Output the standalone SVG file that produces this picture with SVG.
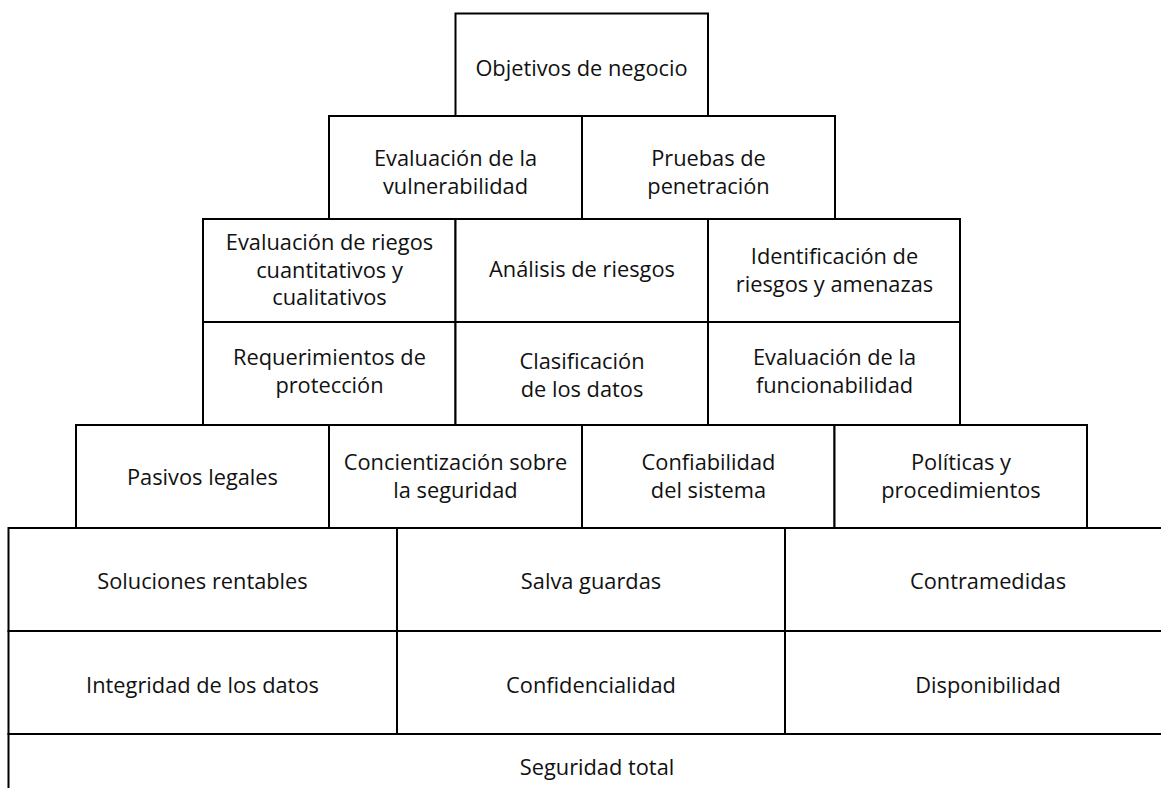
<svg xmlns="http://www.w3.org/2000/svg" width="1161" height="788" viewBox="0 0 1161 788">
<style>
.b{fill:#fff;stroke:#000;stroke-width:2}
.t{font-family:"Open Sans","Noto Sans",sans-serif;font-size:21.8px;fill:#111;text-anchor:middle}
</style>
<rect width="1161" height="788" fill="#fff"/>
<g id="connectors"></g>
<g id="n-objetivos"><rect class="b" x="455.5" y="13.5" width="252.5" height="102.5"/><text class="t" x="581.5" y="76">Objetivos de negocio</text></g>
<g id="n-vulnerabilidad"><rect class="b" x="329" y="116" width="253" height="103"/><text class="t" x="455.5" y="166">Evaluación de la</text><text class="t" x="455.5" y="194">vulnerabilidad</text></g>
<g id="n-pruebas"><rect class="b" x="582" y="116" width="253" height="103"/><text class="t" x="708.5" y="166">Pruebas de</text><text class="t" x="708.5" y="194">penetración</text></g>
<g id="n-evalriesgos"><rect class="b" x="203" y="219" width="252.5" height="103"/><text class="t" x="329.5" y="250">Evaluación de riegos</text><text class="t" x="329.5" y="277.5">cuantitativos y</text><text class="t" x="329.5" y="305">cualitativos</text></g>
<g id="n-analisis"><rect class="b" x="455.5" y="219" width="252.5" height="103"/><text class="t" x="582" y="277">Análisis de riesgos</text></g>
<g id="n-identificacion"><rect class="b" x="708" y="219" width="252" height="103"/><text class="t" x="834.5" y="264">Identificación de</text><text class="t" x="834.5" y="292">riesgos y amenazas</text></g>
<g id="n-requerimientos"><rect class="b" x="203" y="322" width="252.5" height="103"/><text class="t" x="329.5" y="365">Requerimientos de</text><text class="t" x="329.5" y="393">protección</text></g>
<g id="n-clasificacion"><rect class="b" x="455.5" y="322" width="252.5" height="103"/><text class="t" x="582" y="369">Clasificación</text><text class="t" x="582" y="397">de los datos</text></g>
<g id="n-funcionabilidad"><rect class="b" x="708" y="322" width="252" height="103"/><text class="t" x="834.5" y="365">Evaluación de la</text><text class="t" x="834.5" y="393">funcionabilidad</text></g>
<g id="n-pasivos"><rect class="b" x="76" y="425" width="253" height="103"/><text class="t" x="202.5" y="485">Pasivos legales</text></g>
<g id="n-concientizacion"><rect class="b" x="329" y="425" width="253" height="103"/><text class="t" x="455.5" y="470">Concientización sobre</text><text class="t" x="455.5" y="498">la seguridad</text></g>
<g id="n-confiabilidad"><rect class="b" x="582" y="425" width="252.5" height="103"/><text class="t" x="708.5" y="470">Confiabilidad</text><text class="t" x="708.5" y="498">del sistema</text></g>
<g id="n-politicas"><rect class="b" x="834.5" y="425" width="252.5" height="103"/><text class="t" x="961" y="470">Políticas y</text><text class="t" x="961" y="498">procedimientos</text></g>
<g id="n-soluciones"><rect class="b" x="8.5" y="528" width="388.5" height="103"/><text class="t" x="202.5" y="589">Soluciones rentables</text></g>
<g id="n-salva"><rect class="b" x="397" y="528" width="388" height="103"/><text class="t" x="591" y="589">Salva guardas</text></g>
<g id="n-contramedidas"><rect class="b" x="785" y="528" width="410" height="103"/><text class="t" x="988" y="589">Contramedidas</text></g>
<g id="n-integridad"><rect class="b" x="8.5" y="631" width="388.5" height="103"/><text class="t" x="202.5" y="693">Integridad de los datos</text></g>
<g id="n-confidencialidad"><rect class="b" x="397" y="631" width="388" height="103"/><text class="t" x="591" y="693">Confidencialidad</text></g>
<g id="n-disponibilidad"><rect class="b" x="785" y="631" width="410" height="103"/><text class="t" x="988" y="693">Disponibilidad</text></g>
<g id="n-seguridad"><rect class="b" x="8.5" y="734" width="1190" height="100"/><text class="t" x="597" y="775">Seguridad total</text></g>
</svg>
